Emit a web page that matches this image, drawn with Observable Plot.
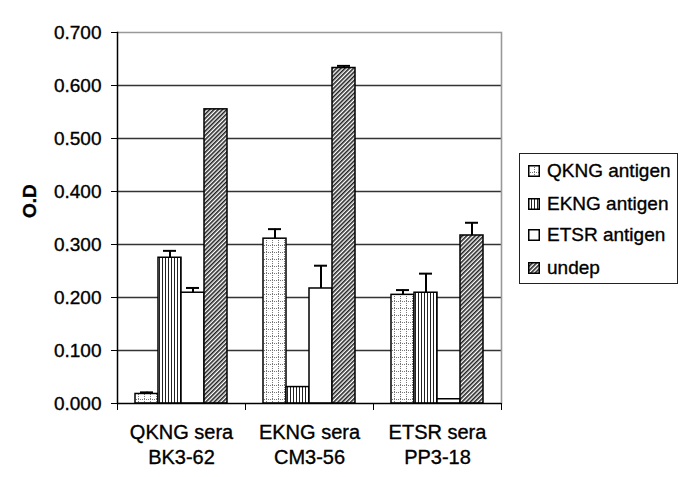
<!DOCTYPE html>
<html><head><meta charset="utf-8">
<script src="https://cdn.jsdelivr.net/npm/d3@7"></script>
<script src="https://cdn.jsdelivr.net/npm/@observablehq/plot@0.6"></script>
<style>
body{margin:0;background:#fff;font-family:"Liberation Sans",Arial,sans-serif;}
#wrap{position:relative;width:685px;height:477px;}
#wrap svg text{stroke:#000;stroke-width:0.35px;}
#legend{position:absolute;left:519px;top:153px;width:159px;height:131px;border:1px solid #222;box-sizing:border-box;background:#fff;}
.row{position:absolute;left:8px;height:20px;display:flex;align-items:center;font-size:19px;color:#000;white-space:nowrap;-webkit-text-stroke:0.35px #000;}
.row svg{margin-right:7px;}
</style></head><body>
<svg width="0" height="0" style="position:absolute">
  <defs>
    <pattern id="pQ" width="6" height="7" patternUnits="userSpaceOnUse">
      <rect width="6" height="7" fill="#fff"/>
      <line x1="0" y1="0.5" x2="6" y2="0.5" stroke="#777" stroke-width="1" stroke-dasharray="1,1"/>
      <line x1="0.5" y1="0" x2="0.5" y2="7" stroke="#777" stroke-width="1" stroke-dasharray="1,1"/>
    </pattern>
    <pattern id="pE" width="3" height="3" patternUnits="userSpaceOnUse">
      <rect width="3" height="3" fill="#fff"/>
      <line x1="0.5" y1="0" x2="0.5" y2="3" stroke="#222" stroke-width="1"/>
    </pattern>
    <pattern id="pT" width="4" height="4" patternUnits="userSpaceOnUse">
      <rect width="4" height="4" fill="#fff"/>
    </pattern>
    <pattern id="pU" width="3" height="3" patternUnits="userSpaceOnUse" patternTransform="rotate(45)">
      <rect width="3" height="3" fill="#fff"/>
      <line x1="0.8" y1="0" x2="0.8" y2="3" stroke="#222" stroke-width="1.6"/>
    </pattern>
  </defs>
</svg>
<div id="wrap"></div>
<script>
const groups = ["QKNG sera\nBK3-62", "EKNG sera\nCM3-56", "ETSR sera\nPP3-18"];
const series = ["QKNG antigen", "EKNG antigen", "ETSR antigen", "undep"];
const qkng  = [0.018, 0.311, 0.205];
const ekng  = [0.275, 0.031, 0.209];
const etsr  = [0.209, 0.217, 0.008];
const undep = [0.555, 0.633, 0.317];
const qkngErr  = [0.003, 0.018, 0.009];
const ekngErr  = [0.013, 0.000, 0.036];
const etsrErr  = [0.009, 0.043, 0.000];
const undepErr = [0.000, 0.004, 0.024];
const yTicks = [0, 0.1, 0.2, 0.3, 0.4, 0.5, 0.6, 0.7];
const fills = ["url(#pQ)", "url(#pE)", "url(#pT)", "url(#pU)"];

const vals = [qkng, ekng, etsr, undep];
const errs = [qkngErr, ekngErr, etsrErr, undepErr];
const data = [];
groups.forEach((g, i) => series.forEach((s, j) => data.push({group: g, series: s, value: vals[j][i], err: errs[j][i]})));
const errData = data.filter(d => d.err > 0);
const halfBand = (685 - 117 - 184) / groups.length / 2;

const chart = Plot.plot({
  width: 685, height: 477,
  marginLeft: 117, marginRight: 184, marginTop: 32, marginBottom: 74,
  style: {fontFamily: "'Liberation Sans', Arial, sans-serif", fontSize: "19px", color: "#000", background: "transparent"},
  fx: {domain: groups, padding: 0, label: null},
  x: {domain: series, paddingInner: 0, paddingOuter: 0.78, axis: null},
  y: {domain: [0, 0.7], label: null},
  color: {domain: series, range: fills},
  marks: [
    Plot.ruleY(yTicks.slice(1, -1), {stroke: "#333", strokeWidth: 1.3}),
    Plot.ruleY(yTicks.slice(-1), {stroke: "#999", strokeWidth: 1.6}),
    Plot.frame({anchor: "right", stroke: "#999", strokeWidth: 1.6, fx: () => groups[2]}),
    Plot.barY(data, {fx: "group", x: "series", y: "value", fill: "series", stroke: "#000", strokeWidth: 1.5}),
    Plot.ruleX(errData, {fx: "group", x: "series", y1: "value", y2: d => d.value + d.err, stroke: "#000", strokeWidth: 2}),
    Plot.tickY(errData, {fx: "group", x: "series", y: d => d.value + d.err, stroke: "#000", strokeWidth: 2, insetLeft: 5, insetRight: 5}),
    Plot.ruleY([0], {stroke: "#000", strokeWidth: 1.5}),
    Plot.frame({anchor: "left", stroke: "#000", strokeWidth: 1.5, fx: () => groups[0]}),
    Plot.axisY({ticks: yTicks, tickFormat: d3.format(".3f"), tickSize: 6, tickPadding: 10, label: null, fontSize: 19}),
    Plot.axisFx({anchor: "bottom", tickSize: 0, tickPadding: 18, lineHeight: 1.25, label: null, fontSize: 20}),
    Plot.axisFx({anchor: "bottom", tickSize: 7, text: null, dx: -halfBand, label: null}),
    Plot.axisFx([groups[2]], {anchor: "bottom", tickSize: 7, text: null, dx: halfBand, label: null}),
    Plot.text(["O.D"], {frameAnchor: "left", dx: -88, rotate: -90, fontWeight: "bold", fontSize: 19, fx: () => groups[0]})
  ]
});
const wrap = document.getElementById("wrap");
wrap.appendChild(chart);

const legend = document.createElement("div");
legend.id = "legend";
const tops = [7, 40, 71, 104];
series.forEach((s, j) => {
  const row = document.createElement("div");
  row.className = "row";
  row.style.top = tops[j] + "px";
  row.innerHTML = `<svg width="12" height="12"><rect x="0.75" y="0.75" width="10.5" height="10.5" fill="${fills[j]}" stroke="#000" stroke-width="1.5"/></svg><span>${s}</span>`;
  legend.appendChild(row);
});
wrap.appendChild(legend);
</script>
</body></html>
